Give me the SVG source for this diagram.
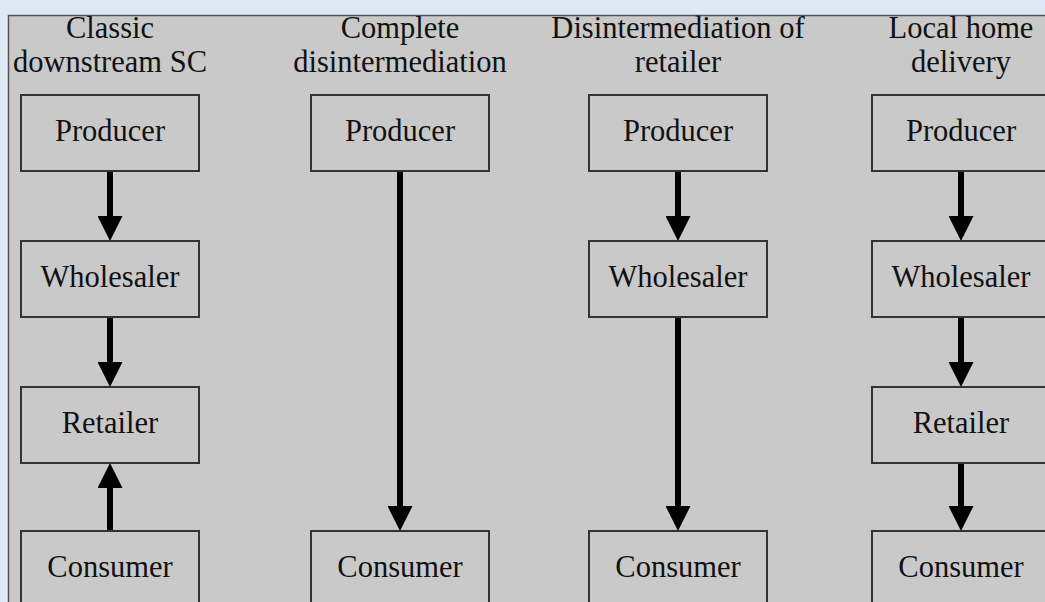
<svg xmlns="http://www.w3.org/2000/svg" width="1045" height="602" viewBox="0 0 1045 602">
<defs>
<style>
.box{fill:#c9c9c9;stroke:#333;stroke-width:2}
.lbl{font-family:"Liberation Serif","Times New Roman",serif;font-size:30.5px;fill:#111;text-anchor:middle}
.arr{stroke:#000;stroke-width:6;fill:none;marker-end:url(#ah)}
</style>
<marker id="ah" markerUnits="userSpaceOnUse" markerWidth="25" markerHeight="25" refX="5" refY="12.5" orient="auto" viewBox="0 0 25 25">
<path d="M0,0 L25,12.5 L0,25 z" fill="#000"/>
</marker>
</defs>
<rect x="0" y="0" width="1045" height="602" fill="#dfe9f5"/>
<rect x="8.5" y="15.5" width="1045" height="600" fill="#c9c9c9" stroke="#555" stroke-width="1.5"/>
<g id="headers">
<text class="lbl" x="110" y="38">Classic</text>
<text class="lbl" x="110" y="72">downstream SC</text>
<text class="lbl" x="400" y="38">Complete</text>
<text class="lbl" x="400" y="72">disintermediation</text>
<text class="lbl" x="678" y="38">Disintermediation of</text>
<text class="lbl" x="678" y="72">retailer</text>
<text class="lbl" x="961" y="38">Local home</text>
<text class="lbl" x="961" y="72">delivery</text>
</g>
<g id="connectors">
<line class="arr" x1="110" y1="171" x2="110" y2="221"/>
<line class="arr" x1="110" y1="317" x2="110" y2="367"/>
<line class="arr" x1="110" y1="531" x2="110" y2="483"/>
<line class="arr" x1="400" y1="171" x2="400" y2="511"/>
<line class="arr" x1="678" y1="171" x2="678" y2="221"/>
<line class="arr" x1="678" y1="317" x2="678" y2="511"/>
<line class="arr" x1="961" y1="171" x2="961" y2="221"/>
<line class="arr" x1="961" y1="317" x2="961" y2="367"/>
<line class="arr" x1="961" y1="463" x2="961" y2="511"/>
</g>
<g id="c1-producer"><rect class="box" x="21" y="95" width="178" height="76"/><text class="lbl" x="110" y="141">Producer</text></g>
<g id="c1-wholesaler"><rect class="box" x="21" y="241" width="178" height="76"/><text class="lbl" x="110" y="287">Wholesaler</text></g>
<g id="c1-retailer"><rect class="box" x="21" y="387" width="178" height="76"/><text class="lbl" x="110" y="433">Retailer</text></g>
<g id="c1-consumer"><rect class="box" x="21" y="531" width="178" height="76"/><text class="lbl" x="110" y="577">Consumer</text></g>
<g id="c2-producer"><rect class="box" x="311" y="95" width="178" height="76"/><text class="lbl" x="400" y="141">Producer</text></g>
<g id="c2-consumer"><rect class="box" x="311" y="531" width="178" height="76"/><text class="lbl" x="400" y="577">Consumer</text></g>
<g id="c3-producer"><rect class="box" x="589" y="95" width="178" height="76"/><text class="lbl" x="678" y="141">Producer</text></g>
<g id="c3-wholesaler"><rect class="box" x="589" y="241" width="178" height="76"/><text class="lbl" x="678" y="287">Wholesaler</text></g>
<g id="c3-consumer"><rect class="box" x="589" y="531" width="178" height="76"/><text class="lbl" x="678" y="577">Consumer</text></g>
<g id="c4-producer"><rect class="box" x="872" y="95" width="178" height="76"/><text class="lbl" x="961" y="141">Producer</text></g>
<g id="c4-wholesaler"><rect class="box" x="872" y="241" width="178" height="76"/><text class="lbl" x="961" y="287">Wholesaler</text></g>
<g id="c4-retailer"><rect class="box" x="872" y="387" width="178" height="76"/><text class="lbl" x="961" y="433">Retailer</text></g>
<g id="c4-consumer"><rect class="box" x="872" y="531" width="178" height="76"/><text class="lbl" x="961" y="577">Consumer</text></g>
</svg>
